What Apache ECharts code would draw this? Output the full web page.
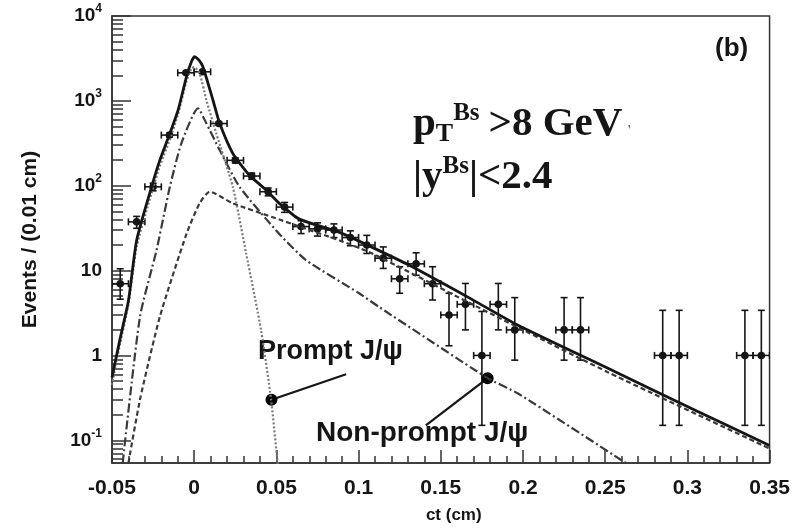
<!DOCTYPE html>
<html>
<head>
<meta charset="utf-8">
<script src="https://cdn.jsdelivr.net/npm/echarts@6/dist/echarts.min.js"></script>
<style>
  html, body { margin: 0; padding: 0; background: #fff; }
  #chart { width: 793px; height: 530px; }
</style>
</head>
<body>
<div id="chart"></div>
<script>
// ---- binned data (bin centre in cm, events, lower / upper error bound)
var ctBins = [-0.045, -0.035, -0.025, -0.015, -0.005, 0.005, 0.015, 0.025, 0.035, 0.045,
              0.055, 0.065, 0.075, 0.085, 0.095, 0.105, 0.115, 0.125, 0.135, 0.145,
              0.155, 0.165, 0.175, 0.185, 0.195, 0.225, 0.235, 0.285, 0.295, 0.335, 0.345];
var events = [7, 37.5, 97, 395, 2140, 2200, 540, 199, 130, 85,
              56, 33, 31, 30, 24.5, 20, 14, 8, 12, 7,
              3, 4, 1, 4, 2, 2, 2, 1, 1, 1, 1];
var errLow = [4.6, 31.5, 87, 375, 2094, 2153, 517, 185, 119, 76,
              48.5, 27.3, 25.5, 24.5, 19.6, 15.9, 10.6, 5.4, 8.8, 4.5,
              1.3, 2.0, 0.15, 2.0, 0.88, 0.88, 0.88, 0.15, 0.15, 0.15, 0.15];
var errHigh = [10.5, 43.5, 107, 415, 2186, 2247, 563, 213, 141, 94,
               63.5, 38.7, 36.5, 35.5, 29.4, 26, 19, 11.1, 16.2, 11.1,
               5.4, 7.05, 3.3, 7.05, 4.8, 4.8, 4.8, 3.4, 3.4, 3.4, 3.4];
var binHalfWidth = 0.005;

// ---- fit components
var totalCt  = [-0.05, -0.045, -0.04, -0.035, -0.0259, -0.0209, -0.0148, -0.0098, -0.0047, -0.0017,
                0.0003, 0.0029, 0.0053, 0.0114, 0.0155, 0.0235, 0.0336, 0.0438, 0.0518, 0.064,
                0.088, 0.108, 0.1306, 0.167, 0.197, 0.252, 0.306, 0.35];
var totalVal = [0.55, 1.6, 4.4, 22.8, 97, 200, 414, 778, 1923, 2892,
                3311, 3027, 2523, 1023, 543, 240, 133, 89, 62, 40.4,
                28.4, 18.9, 11.6, 4.8, 2.27, 0.70, 0.22, 0.087];

// left flank runs underneath the total curve
var promptCt  = [-0.05, -0.045, -0.04, -0.035, -0.0259, -0.0209, -0.0148, -0.0098, -0.0047, -0.0017, 0,
                 0.0033, 0.0074, 0.0134, 0.0235, 0.0316, 0.0407, 0.0468, 0.0508, 0.053];
var promptVal = [0.45, 1.4, 4.0, 19, 82, 170, 350, 700, 1700, 2400, 2500,
                 2110, 1023, 414, 97, 15.9, 1.98, 0.30, 0.054, 0.03];

var nonPromptCt  = [-0.0435, -0.033, -0.0229, -0.0148, -0.0078, 0.0023, 0.0074, 0.0155, 0.0276,
                    0.0518, 0.068, 0.1003, 0.1124, 0.1785, 0.197, 0.262, 0.27];
var nonPromptVal = [0.054, 2.85, 17.4, 97, 316, 817, 543, 263, 97,
                    27, 13.3, 5.4, 3.73, 0.54, 0.356, 0.055, 0.045];

var bkgCt  = [-0.040, -0.033, -0.0209, -0.0047, 0.0033, 0.0094, 0.0235, 0.0518, 0.064,
              0.088, 0.108, 0.167, 0.252, 0.35];
var bkgVal = [0.054, 0.30, 2.85, 27, 62, 85, 62, 40, 33,
              22.8, 16, 4.2, 0.63, 0.080];

// ---- axes
var ctMin = -0.05, ctMax = 0.35, ctStep = 0.05;
var yMin = 0.054, yMax = 10000;
var yMajorTicks = [0.1, 1, 10, 100, 1000, 10000];
var yMajorLabels = ['{b|10}{s|-1}', '{b|1}', '{b|10}', '{b|10}{s|2}', '{b|10}{s|3}', '{b|10}{s|4}'];

// ---- annotations: marker on curve -> end of leader line
var promptMark = [0.047, 0.30, 0.0924, 0.60];
var nonPromptMark = [0.1785, 0.54, 0.1409, 0.150];

var yMinorTicks = [];
[0.01, 0.1, 1, 10, 100, 1000].forEach(function (d) {
    for (var k = 2; k <= 9; k++) {
        var v = k * d;
        if (v >= yMin && v <= yMax) yMinorTicks.push(v);
    }
});

function zip(xs, ys) {
    return xs.map(function (x, i) { return [x, ys[i]]; });
}

var INK = '#151515';
var FRAME = '#333';
var SANS = 'Liberation Sans, Arial, Helvetica, sans-serif';
var SERIF = 'Liberation Serif, Times New Roman, serif';

var chartDom = document.getElementById('chart');
var myChart = echarts.init(chartDom);

function curve(name, xs, ys, color, width, dash) {
    return {
        name: name,
        type: 'line',
        data: zip(xs, ys),
        showSymbol: false,
        smooth: 0.2,
        clip: true,
        silent: true,
        lineStyle: { color: color, width: width, type: dash }
    };
}

var option = {
    animation: false,
    backgroundColor: '#fff',
    grid: {
        left: 112, right: 21, top: 16, bottom: 67,
        show: true, borderColor: FRAME, borderWidth: 1.5
    },
    xAxis: {
        type: 'value',
        min: ctMin, max: ctMax, interval: ctStep,
        name: 'ct (cm)',
        nameLocation: 'middle',
        nameGap: 44,
        nameTextStyle: { fontFamily: SANS, fontWeight: 'bold', fontSize: 17, color: INK, padding: [0, 0, 0, 26] },
        axisLine: { onZero: false, lineStyle: { color: FRAME, width: 1.5 } },
        axisTick: { inside: true, length: 13, lineStyle: { color: FRAME, width: 1.5 } },
        minorTick: { show: true, splitNumber: 5, length: 7, lineStyle: { color: FRAME, width: 1.5 } },
        axisLabel: { margin: 15, fontFamily: SANS, fontWeight: 'bold', fontSize: 21, color: INK },
        splitLine: { show: false },
        minorSplitLine: { show: false }
    },
    yAxis: [{
        type: 'log',
        logBase: 10,
        min: yMin, max: yMax,
        position: 'left',
        name: 'Events / (0.01 cm)',
        nameLocation: 'middle',
        nameRotate: 90,
        nameGap: 71,
        nameTextStyle: { fontFamily: SANS, fontWeight: 'bold', fontSize: 21, color: INK },
        axisLine: { show: true, onZero: false, lineStyle: { color: FRAME, width: 1.5 } },
        axisTick: { inside: true, length: 19, customValues: yMajorTicks, lineStyle: { color: FRAME, width: 1.5 } },
        axisLabel: {
            margin: 10,
            customValues: yMajorTicks,
            formatter: function (v) {
                for (var i = 0; i < yMajorTicks.length; i++) {
                    if (Math.abs(Math.log10(v) - Math.log10(yMajorTicks[i])) < 1e-6) return yMajorLabels[i];
                }
                return '';
            },
            rich: {
                b: { fontFamily: SANS, fontWeight: 'bold', fontSize: 19, color: INK, lineHeight: 26 },
                s: { fontFamily: SANS, fontWeight: 'bold', fontSize: 12, color: INK, lineHeight: 12, verticalAlign: 'top' }
            }
        },
        splitLine: { show: false }
    }, {
        type: 'log',
        logBase: 10,
        min: yMin, max: yMax,
        position: 'left',
        offset: 0,
        axisLine: { show: false, onZero: false },
        axisTick: { inside: true, length: 11, customValues: yMinorTicks, lineStyle: { color: FRAME, width: 1.5 } },
        axisLabel: { show: false },
        splitLine: { show: false }
    }],
    series: [
        curve('Background', bkgCt, bkgVal, '#3a3a3a', 2.2, [5, 3]),
        curve('Non-prompt J/\u03c8', nonPromptCt, nonPromptVal, '#3a3a3a', 2.2, [9, 3, 2, 3]),
        curve('Prompt J/\u03c8', promptCt, promptVal, '#7a7a7a', 2.2, [2, 2]),
        curve('Total', totalCt, totalVal, INK, 2.8, 'solid'),
        {
            name: 'Data',
            type: 'custom',
            clip: true,
            silent: true,
            data: ctBins.map(function (x, i) { return [x, events[i], errLow[i], errHigh[i]]; }),
            encode: { x: 0, y: 1 },
            renderItem: function (params, api) {
                var x = api.value(0), y = api.value(1);
                var c = api.coord([x, y]);
                var top = api.coord([x, api.value(3)]);
                var bot = api.coord([x, api.value(2)]);
                var lft = api.coord([x - binHalfWidth, y]);
                var rgt = api.coord([x + binHalfWidth, y]);
                var st = { stroke: INK, lineWidth: 1.6 };
                var cap = 3.5;
                return {
                    type: 'group',
                    children: [
                        { type: 'line', shape: { x1: c[0], y1: top[1], x2: c[0], y2: bot[1] }, style: st },
                        { type: 'line', shape: { x1: c[0] - cap, y1: top[1], x2: c[0] + cap, y2: top[1] }, style: st },
                        { type: 'line', shape: { x1: c[0] - cap, y1: bot[1], x2: c[0] + cap, y2: bot[1] }, style: st },
                        { type: 'line', shape: { x1: lft[0], y1: c[1], x2: rgt[0], y2: c[1] }, style: st },
                        { type: 'line', shape: { x1: lft[0], y1: c[1] - cap, x2: lft[0], y2: c[1] + cap }, style: st },
                        { type: 'line', shape: { x1: rgt[0], y1: c[1] - cap, x2: rgt[0], y2: c[1] + cap }, style: st },
                        { type: 'circle', shape: { cx: c[0], cy: c[1], r: 3.8 }, style: { fill: INK } }
                    ]
                };
            }
        },
        {
            name: 'Labels',
            type: 'custom',
            clip: false,
            silent: true,
            data: [promptMark, nonPromptMark],
            encode: { x: 0, y: 1 },
            renderItem: function (params, api) {
                var m = api.coord([api.value(0), api.value(1)]);
                var e = api.coord([api.value(2), api.value(3)]);
                return {
                    type: 'group',
                    children: [
                        { type: 'line', shape: { x1: m[0], y1: m[1], x2: e[0], y2: e[1] }, style: { stroke: INK, lineWidth: 2.2 } },
                        { type: 'circle', shape: { cx: m[0], cy: m[1], r: 6 }, style: { fill: '#000' } }
                    ]
                };
            }
        }
    ],
    graphic: [
        { type: 'text', left: 715, top: 36, style: { text: '(b)', font: 'bold 26px ' + SANS, fill: INK } },
        {
            type: 'text', left: 413, top: 101,
            style: {
                text: '{a|p}{sub|T}{sup|Bs}{a|>8 GeV}',
                rich: {
                    a: { font: 'bold 41px ' + SERIF, fill: INK, lineHeight: 46 },
                    sub: { font: 'bold 26px ' + SERIF, fill: INK, lineHeight: 16, verticalAlign: 'bottom' },
                    sup: { font: 'bold 25px ' + SERIF, fill: INK, lineHeight: 32, verticalAlign: 'top', padding: [0, 9, 0, 0] }
                }
            }
        },
        { type: 'text', left: 628, top: 124, style: { text: "'", font: '14px ' + SERIF, fill: '#444' } },
        {
            type: 'text', left: 413, top: 154,
            style: {
                text: '{a||y}{sup|Bs}{a||<2.4}',
                rich: {
                    a: { font: 'bold 41px ' + SERIF, fill: INK, lineHeight: 46 },
                    sup: { font: 'bold 25px ' + SERIF, fill: INK, lineHeight: 32, verticalAlign: 'top' }
                }
            }
        },
        { type: 'text', left: 258, top: 338, style: { text: 'Prompt J/\u03c8', font: 'bold 27px ' + SANS, fill: INK } },
        { type: 'text', left: 316, top: 419, style: { text: 'Non-prompt J/\u03c8', font: 'bold 28px ' + SANS, fill: INK } }
    ]
};

option && myChart.setOption(option);

window.addEventListener('resize', function () {
    myChart.resize();
});
</script>
</body>
</html>
